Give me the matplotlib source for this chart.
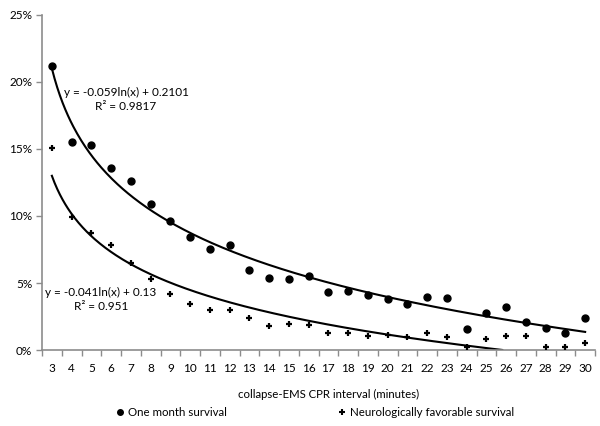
import numpy as np
import matplotlib
matplotlib.use("Agg")
import matplotlib.pyplot as plt
from matplotlib.ticker import FuncFormatter

plt.rcParams['font.family'] = ['Lato', 'DejaVu Sans']

minutes = list(range(3, 31))
one_month = [21.2, 15.5, 15.3, 13.6, 12.6, 10.9, 9.65, 8.4, 7.55, 7.8, 6.0, 5.4, 5.3, 5.5,
             4.35, 4.4, 4.1, 3.8, 3.4, 3.95, 3.9, 1.6, 2.75, 3.2, 2.1, 1.65, 1.25, 2.4]
neuro = [15.1, 9.9, 8.7, 7.8, 6.5, 5.3, 4.15, 3.4, 3.0, 2.95, 2.4, 1.8, 1.95, 1.85,
         1.25, 1.3, 1.05, 1.1, 1.0, 1.25, 1.0, 0.25, 0.85, 1.05, 1.05, 0.25, 0.2, 0.5]
fit_one = (-0.059, 0.2101)
fit_neuro = (-0.041, 0.13)
eq_one = ["y = -0.059ln(x) + 0.2101", "R² = 0.9817"]
eq_neuro = ["y = -0.041ln(x) + 0.13", "R² = 0.951"]
yticks = [0, 5, 10, 15, 20, 25]

fig = plt.figure(figsize=(6, 4.26), dpi=100)
ax = fig.add_axes([0.07, 0.1784, 0.9217, 0.7864])

idx = np.arange(1, len(minutes) + 1)
ax.plot(idx, one_month, 'o', color='black', markersize=5, zorder=3)
ax.plot(idx, neuro, '+', color='black', markersize=5, markeredgewidth=1.6, zorder=3)

xs = np.linspace(1, len(minutes), 400)
for (a, b) in (fit_one, fit_neuro):
    ys = (a * np.log(xs) + b) * 100
    m = ys >= 0
    ax.plot(xs[m], ys[m], color='black', lw=1.5, zorder=2)

ax.set_xlim(0.5, len(minutes) + 0.5)
ax.set_ylim(0, 25)
ax.set_yticks(yticks)
ax.yaxis.set_major_formatter(FuncFormatter(lambda v, p: f"{int(v)}%"))
ax.set_xticks(idx)
ax.set_xticklabels([str(m) for m in minutes])
ax.set_xticks(np.arange(0.5, len(minutes) + 1, 1), minor=True)
ax.tick_params(axis='x', which='major', length=0, pad=9, labelsize=8.5, colors='black')
ax.tick_params(axis='x', which='minor', length=4, color='#8c8c8c', width=1)
ax.tick_params(axis='y', length=4, color='#8c8c8c', width=1, labelsize=8.5, pad=3)
for s in ('top', 'right'):
    ax.spines[s].set_visible(False)
for s in ('left', 'bottom'):
    ax.spines[s].set_color('#8c8c8c')
    ax.spines[s].set_linewidth(1.2)

def px(x, y):
    return x / 600, 1 - y / 426

fig.text(*px(126, 92), eq_one[0], ha='center', va='center', fontsize=8.5)
fig.text(*px(126, 107), eq_one[1], ha='center', va='center', fontsize=8.5)
fig.text(*px(101, 292), eq_neuro[0], ha='center', va='center', fontsize=8.5)
fig.text(*px(101, 307), eq_neuro[1], ha='center', va='center', fontsize=8.5)

fig.text(*px(329, 394), "collapse-EMS CPR interval (minutes)", ha='center', va='center', fontsize=8.2)

# legend
fig.lines.append(plt.Line2D([120 / 600], [1 - 412 / 426], marker='o', color='black',
                            markersize=4, transform=fig.transFigure, linestyle='none'))
fig.text(*px(128, 412), "One month survival", ha='left', va='center', fontsize=8.3)
fig.lines.append(plt.Line2D([342 / 600], [1 - 412 / 426], marker='+', color='black',
                            markersize=4.5, markeredgewidth=1.5, transform=fig.transFigure,
                            linestyle='none'))
fig.text(*px(350, 412), "Neurologically favorable survival", ha='left', va='center', fontsize=8.3)

fig.savefig("out.png", dpi=100)
